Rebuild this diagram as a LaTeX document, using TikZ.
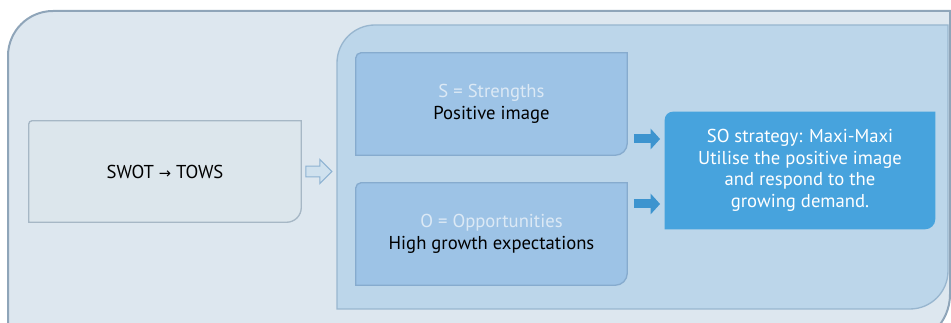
\documentclass[tikz,border=0pt]{standalone}
\usepackage{fontspec}
\setmainfont{PT Sans}
\newfontfamily\arrowfont{DejaVu Sans}
\usetikzlibrary{arrows.meta}
\usetikzlibrary{shapes.arrows}
\usetikzlibrary{backgrounds}
\usetikzlibrary{positioning}
\definecolor{outerfill}{HTML}{DDE7EF}
\definecolor{outerline}{HTML}{8FA5B9}
\definecolor{innerfill}{HTML}{BCD6EA}
\definecolor{innerline}{HTML}{98B6CF}
\definecolor{swotfill}{HTML}{DCE6EC}
\definecolor{swotline}{HTML}{A6B7C5}
\definecolor{cardfill}{HTML}{9DC3E6}
\definecolor{cardline}{HTML}{86ABCE}
\definecolor{sofill}{HTML}{47A3DD}
\definecolor{arrowblue}{HTML}{3D94CF}
\definecolor{hollowfill}{HTML}{CFE1EE}
\definecolor{hollowline}{HTML}{8DB2D2}
\definecolor{lighttext}{HTML}{DCE9F5}
\tikzset{
  card/.style={
    rectangle,
    inner sep=0,
    align=center,
    font=\fontsize{14}{16.2}\selectfont,
    text=black,
  },
  swot/.style={
    card,
    minimum width=204pt,
    minimum height=75.75pt,
  },
  factor/.style={
    card,
    minimum width=203.25pt,
    minimum height=76.5pt,
  },
  strategy/.style={
    card,
    text=white,
    minimum width=202.5pt,
    minimum height=87.75pt,
  },
  hollowarrow/.style={
    single arrow,
    draw=hollowline,
    fill=hollowfill,
    line width=.8pt,
    inner xsep=0,
    inner ysep=3.6pt,
    minimum height=19.5pt,
    single arrow head extend=5pt,
  },
  bluearrow/.style={
    draw=arrowblue,
    line width=6.75pt,
    -{Triangle[length=7pt,width=15pt]},
  }
}
\newcommand{\cardshape}[4]{%
  % #1 node, #2 style, #3 top-left radius, #4 bottom-right radius
  \path[#2] (#1.south west) -- ([yshift=-#3]#1.north west)
    arc[start angle=180,end angle=90,radius=#3] -- (#1.north east)
    -- ([yshift=#4]#1.south east)
    arc[start angle=0,end angle=-90,radius=#4] -- cycle;
}

\begin{document}
\begin{tikzpicture}[x=0.75pt,y=0.75pt]
  \useasboundingbox (0,0) rectangle (951,323);
  \clip (0,0) rectangle (951,323);

  % boxes
  \node[swot] (swot) at (165,151.5) {\raisebox{-3pt}{SWOT {\arrowfont\fontsize{11}{12}\selectfont →} TOWS}};
  \node[factor] (S) at (491.5,219) {{\color{lighttext}S = Strengths}\\Positive image};
  \node[factor] (O) at (491.5,89) {{\color{lighttext}O = Opportunities}\\High growth expectations};
  \node[strategy] (SO) at (800,152.5) {SO strategy: Maxi-Maxi\\Utilise the positive image\\and respond to the\\growing demand.};

  % arrows
  \node[hollowarrow,right=3pt of swot] (toinner) {};
  \coordinate (a1) at (0,184);
  \coordinate (a2) at (0,119);
  \draw[bluearrow,shorten <=5pt,shorten >=3.5pt] (S.east |- a1) -- (SO.west |- a1);
  \draw[bluearrow,shorten <=5pt,shorten >=3.5pt] (O.east |- a2) -- (SO.west |- a2);

  \begin{pgfonlayer}{background}
    % outer panel
    \path[fill=outerfill,draw=outerline,line width=1.5pt]
      (8,-21.4) -- (8,267) arc[start angle=180,end angle=90,radius=33.75pt]
      -- (950,312) -- (950,28.6) arc[start angle=0,end angle=-90,radius=37.5pt] -- cycle;
    % inner panel
    \path[fill=innerfill,draw=innerline,line width=1pt]
      (337,14) -- (337,260) arc[start angle=180,end angle=90,radius=28.5pt]
      -- (948,298) -- (948,52) arc[start angle=0,end angle=-90,radius=28.5pt] -- cycle;
    \cardshape{swot}{fill=swotfill,draw=swotline,line width=1pt}{2.5pt}{11pt}
    \cardshape{S}{fill=cardfill,draw=cardline,line width=1pt}{4pt}{9pt}
    \cardshape{O}{fill=cardfill,draw=cardline,line width=1pt}{4pt}{9pt}
    \cardshape{SO}{fill=sofill}{6pt}{7.5pt}
  \end{pgfonlayer}
\end{tikzpicture}
\end{document}
